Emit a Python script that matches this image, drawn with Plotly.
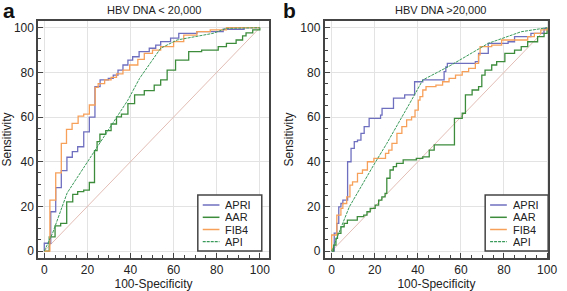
import plotly.graph_objects as go

# ---------------- data ----------------
# Panel a: HBV DNA < 20,000
apri_a_x = [0, 0, 2, 3, 5.3, 7.9, 10.5, 13, 15.5, 18.3, 20.9, 23.5, 25.9, 29.7, 32, 34.2, 36.5, 38.8, 41, 44, 48.7, 51.7, 54, 58.6, 62.4, 70.8, 83, 92.7, 100]
apri_a_y = [0, 3.5, 3.5, 17.6, 28.4, 36, 42, 44.5, 46.7, 53.4, 60, 73.6, 76.6, 77.3, 78.8, 81, 83.3, 85.5, 87, 89.3, 90.8, 92.2, 93.8, 95.3, 97.5, 98.2, 99.3, 100, 100]

aar_a_x = [0, 2.3, 5, 7.6, 10.4, 13.2, 15.5, 18.3, 20.9, 23.3, 24.5, 25.8, 28.5, 31, 33.5, 35.8, 38.8, 41.9, 46.4, 51, 54, 57, 60.9, 67, 73, 80.7, 84.5, 89, 92, 93.6, 96.7, 100]
aar_a_y = [0, 6.4, 11.3, 12.4, 22, 25.4, 26.6, 27.3, 30.7, 45, 49, 52.3, 53.9, 56.9, 60.1, 61.3, 66, 69.9, 71.8, 74.3, 76.6, 81, 85.5, 89.3, 90, 91.5, 93, 94.5, 96.3, 97.7, 99, 100]

fib4_a_x = [0, 2.6, 5.3, 7.9, 10.3, 12.9, 15.7, 18.3, 20.9, 23.6, 25, 28, 31, 33.5, 36.5, 39.6, 43.4, 46.4, 50.2, 54, 60, 64.7, 70.8, 77, 84.5, 100]
fib4_a_y = [0, 22.8, 35, 48.2, 54.5, 57.2, 60.4, 61.3, 65.4, 73.3, 75, 76.6, 77.8, 79.3, 81, 83.3, 85.8, 88.5, 90, 91.5, 93.8, 96.7, 98.2, 99, 100, 100]

api_a_x = [0, 3.8, 10.6, 25, 38.8, 44.2, 54, 61.6, 78.4, 84.5, 100]
api_a_y = [0, 7.9, 26, 47, 67.6, 77.3, 90.8, 94.5, 97.5, 99.7, 100]

# Panel b: HBV DNA > 20,000
apri_b_x = [0, 1.2, 2.4, 3.3, 4.3, 5.2, 7.4, 9, 10.5, 12, 13.6, 15.1, 17.4, 22.7, 23.4, 28.7, 33.9, 38.5, 42.3, 52.2, 53, 53.7, 66.7, 68.2, 72.7, 81.9, 84.9, 92.5, 98.6, 100]
apri_b_y = [0, 8, 12.4, 19.8, 21.3, 22.8, 40, 46, 49, 49.7, 52.7, 55.7, 59.4, 60.9, 63.9, 68.5, 69.9, 75.8, 76.6, 80.3, 82.5, 84, 84.8, 88.5, 93, 93.7, 96, 97.5, 99.7, 100]

aar_b_x = [0, 0.9, 2, 2.7, 4.3, 5.8, 7.3, 11.9, 14.9, 16.4, 17.9, 20.2, 21.8, 23.3, 24.8, 25.6, 27.1, 28.6, 30.1, 33.2, 39.3, 42.3, 45.3, 47.6, 57, 60.6, 62.1, 65.2, 68.2, 69.7, 71.2, 74.3, 76.6, 80.4, 84.9, 88, 91, 95.6, 98.6, 100]
aar_b_y = [0, 2.7, 5.7, 7.9, 10.9, 12.4, 13.9, 15.4, 16.1, 17.6, 19.1, 20.6, 22.8, 24.3, 25.8, 32.6, 36.3, 37.8, 39.3, 40.8, 41.5, 42.2, 45.2, 47.5, 59.4, 61.7, 69.9, 72.1, 73.6, 78.8, 81, 83.3, 84.8, 88.5, 90, 91.5, 93.7, 96, 97.5, 100]

fib4_b_x = [0, 0, 2.4, 4.3, 5.2, 7, 8.5, 9.7, 12, 14.3, 16.6, 19.6, 25, 26.5, 28, 30.3, 32.6, 34.8, 37.1, 38.7, 40.2, 41, 42.3, 43.8, 48.4, 51.5, 54.5, 57.5, 60.6, 63.6, 66.7, 68.2, 68.9, 74.3, 78.9, 91, 94.1, 97.1, 100]
fib4_b_y = [0, 7.2, 16.1, 19.1, 21.3, 24.3, 29.5, 31, 34.8, 36.3, 40, 41.5, 43.7, 45.2, 48.2, 52.7, 55.7, 58.7, 60.1, 63.1, 67.6, 69.1, 72.1, 73.6, 74.3, 75.8, 77.3, 78.8, 80.3, 81.8, 84, 87.8, 91.5, 92.2, 94.5, 96, 97.5, 99, 100]

api_b_x = [0, 3, 8.2, 19.5, 25.6, 37.1, 42.3, 55, 72.7, 88, 100]
api_b_y = [0, 7, 19.8, 38.5, 48.2, 67.6, 76.6, 83, 93, 98.2, 100]

ref_x = [0, 100]
ref_y = [0, 100]

tick_vals = [0, 20, 40, 60, 80, 100]
panel_titles = ["HBV DNA < 20,000", "HBV DNA >20,000"]
panel_letters = ["a", "b"]
series_names = ["APRI", "AAR", "FIB4", "API"]

# ---------------- styles ----------------
C_APRI = "#6f6fc0"
C_AAR = "#3c8c3c"
C_FIB4 = "#f7a05a"
C_API = "#3a9a5a"
C_REF = "#e2bdb5"
FONT = "Liberation Sans, Arial, sans-serif"
series_colors = [C_APRI, C_AAR, C_FIB4, C_API]
series_dash = ["solid", "solid", "solid", "3px,1px"]
series_width = [1.3, 1.3, 1.3, 1.0]

fig = go.Figure()

panels = [
    ("x", "y", [(apri_a_x, apri_a_y), (aar_a_x, aar_a_y), (fib4_a_x, fib4_a_y), (api_a_x, api_a_y)]),
    ("x2", "y2", [(apri_b_x, apri_b_y), (aar_b_x, aar_b_y), (fib4_b_x, fib4_b_y), (api_b_x, api_b_y)]),
]

for xa, ya, series in panels:
    fig.add_trace(go.Scatter(x=ref_x, y=ref_y, mode="lines", line=dict(color=C_REF, width=1),
                             showlegend=False, xaxis=xa, yaxis=ya, hoverinfo="skip"))
    for i, (sx, sy) in enumerate(series):
        shape = "linear" if series_names[i] == "API" else "hv"
        fig.add_trace(go.Scatter(x=sx, y=sy, mode="lines", name=series_names[i],
                                 line=dict(color=series_colors[i], width=series_width[i],
                                           dash=series_dash[i], shape=shape),
                                 xaxis=xa, yaxis=ya, showlegend=False))

W, H = 567, 291
dom_y = [1 - 258 / H, 1 - 21 / H]

axis_common = dict(
    showline=True, linecolor="#444444", linewidth=2, mirror=True,
    ticks="inside", ticklen=5, tickwidth=1, tickcolor="#444444",
    tickvals=tick_vals, showgrid=True, gridcolor="#e3e3e3", gridwidth=1,
    zeroline=False, tickfont=dict(family=FONT, size=12, color="#222222"),
    minor=dict(ticks="inside", ticklen=3, dtick=5, tick0=0, tickcolor="#444444", showgrid=False),
)

fig.update_layout(
    width=W, height=H,
    margin=dict(l=0, r=0, t=0, b=0),
    paper_bgcolor="white", plot_bgcolor="white",
    font=dict(family=FONT, size=12, color="#222222"),
    showlegend=False,
    xaxis=dict(domain=[39 / W, 273 / W], range=[-2.74, 104.1], anchor="y",
               title=dict(text="100-Specificity", font=dict(size=12), standoff=4), **axis_common),
    yaxis=dict(domain=dom_y, range=[-3.1, 103], anchor="x",
               title=dict(text="Sensitivity", font=dict(size=12), standoff=4), **axis_common),
    xaxis2=dict(domain=[330 / W, 557 / W], range=[-3.2, 100.5], anchor="y2",
                title=dict(text="100-Specificity", font=dict(size=12), standoff=4), **axis_common),
    yaxis2=dict(domain=dom_y, range=[-3.1, 103], anchor="x2",
                title=dict(text="Sensitivity", font=dict(size=12), standoff=4), **axis_common),
)

annotations = [
    dict(text=panel_titles[0], x=156 / W, y=1 - 10 / H, xref="paper", yref="paper",
         xanchor="center", yanchor="middle",
         showarrow=False, font=dict(family=FONT, size=11, color="#222222")),
    dict(text=panel_titles[1], x=448 / W, y=1 - 10 / H, xref="paper", yref="paper",
         xanchor="center", yanchor="middle",
         showarrow=False, font=dict(family=FONT, size=11, color="#222222")),
    dict(text="<b>" + panel_letters[0] + "</b>", x=2 / W, y=1, xref="paper", yref="paper",
         xanchor="left", yanchor="top", height=19, borderpad=0, showarrow=False,
         font=dict(family=FONT, size=21, color="#111111")),
    dict(text="<b>" + panel_letters[1] + "</b>", x=287 / W, y=1, xref="paper", yref="paper",
         xanchor="left", yanchor="top", height=19, borderpad=0, showarrow=False,
         font=dict(family=FONT, size=21, color="#111111")),
]

# compact legend boxes (plotly's native legend has a larger minimum row height)
shapes = []
legend_boxes = [(201, 266), (493, 557)]  # left/right px
box_top, box_bottom = 195, 251
row_y = [205, 217.3, 229.5, 241.7]
for left, right in legend_boxes:
    shapes.append(dict(type="rect", xref="paper", yref="paper",
                       x0=left / W, x1=right / W, y0=1 - box_bottom / H, y1=1 - box_top / H,
                       line=dict(color="#444444", width=1.5), fillcolor="white", layer="above"))
    for i, name in enumerate(series_names):
        yy = 1 - row_y[i] / H
        shapes.append(dict(type="line", xref="paper", yref="paper",
                           x0=(left + 5) / W, x1=(left + 22) / W, y0=yy, y1=yy,
                           line=dict(color=series_colors[i], width=series_width[i] + 0.2,
                                     dash=series_dash[i]), layer="above"))
        annotations.append(dict(text=name, x=(left + 27) / W, y=yy, xref="paper", yref="paper",
                                xanchor="left", yanchor="middle", showarrow=False, height=12,
                                borderpad=0,
                                font=dict(family=FONT, size=11, color="#222222")))

fig.update_layout(annotations=annotations, shapes=shapes)

fig.write_html("out.html", config={"displayModeBar": False},
               post_script="document.body.style.margin='0';document.body.style.overflow='hidden';")
